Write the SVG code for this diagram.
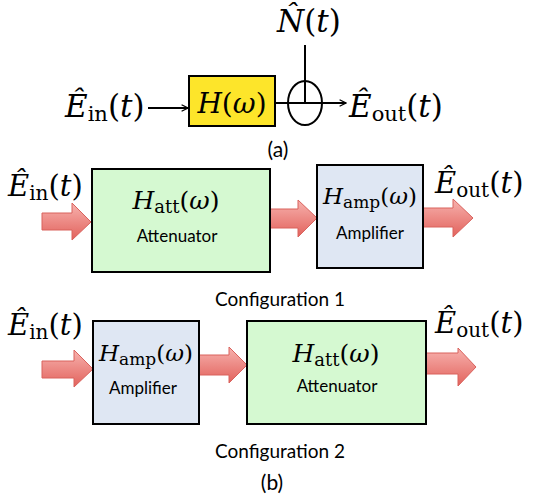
<svg xmlns="http://www.w3.org/2000/svg" width="552" height="502" viewBox="0 0 552 502">
<defs>
  <linearGradient id="rg" x1="0" y1="0" x2="0" y2="1">
    <stop offset="0" stop-color="#f7b2ae"/>
    <stop offset="1" stop-color="#e2625c"/>
  </linearGradient>
  <marker id="ah" viewBox="0 0 10 10" refX="9" refY="5" markerWidth="8" markerHeight="8" markerUnits="userSpaceOnUse" orient="auto">
    <path d="M1,1 L9,5 L1,9" fill="none" stroke="#000" stroke-width="1.6"/>
  </marker>
</defs>
<style>
  .m { font-family: "DejaVu Serif", "Liberation Serif", serif; fill: #000; }
  .i { font-style: italic; }
  .lbl { font-family: "Lato", "Open Sans", "Liberation Sans", sans-serif; fill: #000; }
  .box { stroke: #000; stroke-width: 2; }
  .arr { fill: url(#rg); stroke: #d9625d; stroke-width: 1; }
  .ln { stroke: #000; stroke-width: 2; fill: none; }
</style>
<rect width="552" height="502" fill="#fff"/>

<g id="connectors">
  <line class="ln" x1="148" y1="108" x2="188" y2="108" marker-end="url(#ah)"/>
  <line class="ln" x1="275" y1="103" x2="346" y2="103" marker-end="url(#ah)"/>
  <line class="ln" x1="305" y1="45" x2="305" y2="103"/>
  <path class="arr" d="M42,213 H72 V203 L91,222 L72,240 V230 H42 Z"/>
  <path class="arr" d="M270,209 H298 V200 L317,218 L298,237 V228 H270 Z"/>
  <path class="arr" d="M423,208 H453 V199 L473,218 L453,237 V227 H423 Z"/>
  <path class="arr" d="M42,361 H74 V350 L93,369 L74,387 V378 H42 Z"/>
  <path class="arr" d="M199,355 H229 V347 L247,365 L229,383 V375 H199 Z"/>
  <path class="arr" d="M426,353 H458 V348 L476,367 L458,386 V374 H426 Z"/>
</g>

<!-- (a) -->
<g id="a-in">
  <text class="m" x="65" y="117" font-size="31"><tspan class="i">Ê</tspan><tspan font-size="21" dy="4">in</tspan><tspan dy="-4">(</tspan><tspan class="i">t</tspan>)</text>
</g>
<g id="a-H">
  <rect class="box" x="189" y="76" width="86" height="50" fill="#fde52a"/>
  <text class="m" x="232" y="113" font-size="28" text-anchor="middle"><tspan class="i">H</tspan>(<tspan class="i">ω</tspan>)</text>
</g>
<g id="a-sum">
  <ellipse cx="305" cy="103" rx="17" ry="22" fill="none" stroke="#000" stroke-width="2"/>
</g>
<g id="a-noise">
  <text class="m" x="277" y="32" font-size="31"><tspan class="i">N̂</tspan>(<tspan class="i">t</tspan>)</text>
</g>
<g id="a-out">
  <text class="m" x="349" y="117" font-size="31"><tspan class="i">Ê</tspan><tspan font-size="21" dy="4">out</tspan><tspan dy="-4">(</tspan><tspan class="i">t</tspan>)</text>
</g>
<text class="lbl" x="278" y="157" font-size="21" text-anchor="middle">(a)</text>

<!-- Configuration 1 -->
<g id="c1-in">
  <text class="m" x="8" y="196" font-size="29"><tspan class="i">Ê</tspan><tspan font-size="20" dy="4">in</tspan><tspan dy="-4">(</tspan><tspan class="i">t</tspan>)</text>
</g>
<g id="c1-att">
  <rect class="box" x="92" y="169" width="178" height="103" fill="#d5f9d1"/>
  <text class="m" x="176" y="209" font-size="25" text-anchor="middle"><tspan class="i">H</tspan><tspan font-size="18" dy="4">att</tspan><tspan dy="-4">(</tspan><tspan class="i">ω</tspan>)</text>
  <text class="lbl" x="177" y="242" font-size="17" text-anchor="middle">Attenuator</text>
</g>
<g id="c1-amp">
  <rect class="box" x="317" y="165" width="106" height="103" fill="#dfe7f3"/>
  <text class="m" x="370" y="204" font-size="23" text-anchor="middle"><tspan class="i">H</tspan><tspan font-size="17" dy="4">amp</tspan><tspan dy="-4">(</tspan><tspan class="i">ω</tspan>)</text>
  <text class="lbl" x="370" y="239" font-size="17" text-anchor="middle">Amplifier</text>
</g>
<g id="c1-out">
  <text class="m" x="435" y="193" font-size="29"><tspan class="i">Ê</tspan><tspan font-size="20" dy="4">out</tspan><tspan dy="-4">(</tspan><tspan class="i">t</tspan>)</text>
</g>
<text class="lbl" x="280" y="306" font-size="19" text-anchor="middle">Configuration 1</text>

<!-- Configuration 2 -->
<g id="c2-in">
  <text class="m" x="8" y="335" font-size="29"><tspan class="i">Ê</tspan><tspan font-size="20" dy="4">in</tspan><tspan dy="-4">(</tspan><tspan class="i">t</tspan>)</text>
</g>
<g id="c2-amp">
  <rect class="box" x="93" y="321" width="106" height="103" fill="#dfe7f3"/>
  <text class="m" x="146" y="361" font-size="23" text-anchor="middle"><tspan class="i">H</tspan><tspan font-size="17" dy="4">amp</tspan><tspan dy="-4">(</tspan><tspan class="i">ω</tspan>)</text>
  <text class="lbl" x="143" y="394" font-size="17" text-anchor="middle">Amplifier</text>
</g>
<g id="c2-att">
  <rect class="box" x="247" y="321" width="179" height="103" fill="#d5f9d1"/>
  <text class="m" x="336" y="362" font-size="25" text-anchor="middle"><tspan class="i">H</tspan><tspan font-size="18" dy="4">att</tspan><tspan dy="-4">(</tspan><tspan class="i">ω</tspan>)</text>
  <text class="lbl" x="337" y="392" font-size="17" text-anchor="middle">Attenuator</text>
</g>
<g id="c2-out">
  <text class="m" x="435" y="333" font-size="29"><tspan class="i">Ê</tspan><tspan font-size="20" dy="4">out</tspan><tspan dy="-4">(</tspan><tspan class="i">t</tspan>)</text>
</g>
<text class="lbl" x="280" y="458" font-size="19" text-anchor="middle">Configuration 2</text>
<text class="lbl" x="272" y="490" font-size="21" text-anchor="middle">(b)</text>
</svg>
